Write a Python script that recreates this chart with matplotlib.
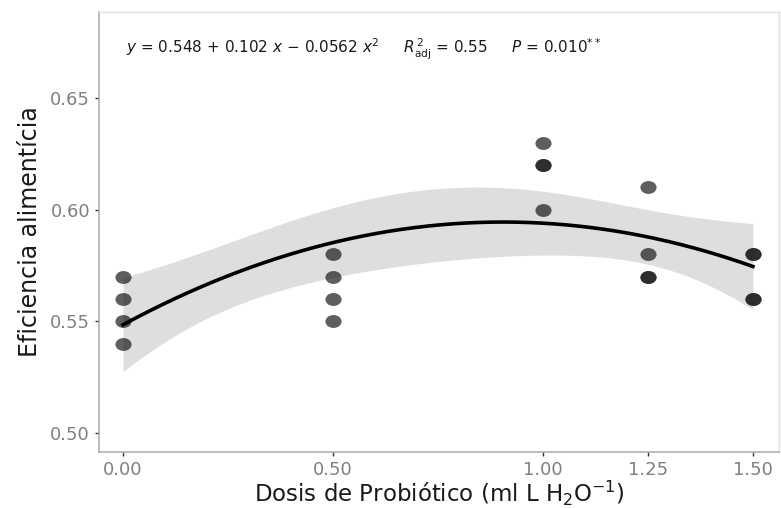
import numpy as np
import matplotlib
matplotlib.use("Agg")
import matplotlib.pyplot as plt
from matplotlib.path import Path
from matplotlib.transforms import Affine2D

plt.rcParams['font.family'] = ['DejaVu Sans']
plt.rcParams['mathtext.fontset'] = 'dejavusans'

# Data
dose = [0.00, 0.00, 0.00, 0.00,
        0.50, 0.50, 0.50, 0.50,
        1.00, 1.00, 1.00, 1.00,
        1.25, 1.25, 1.25, 1.25,
        1.50, 1.50, 1.50, 1.50]
efficiency = [0.57, 0.56, 0.55, 0.54,
              0.58, 0.57, 0.56, 0.55,
              0.63, 0.62, 0.62, 0.60,
              0.61, 0.58, 0.57, 0.57,
              0.58, 0.58, 0.56, 0.56]
x_ticks = [0.00, 0.50, 1.00, 1.25, 1.50]
x_ticklabels = ["0.00", "0.50", "1.00", "1.25", "1.50"]
y_ticks = [0.50, 0.55, 0.60, 0.65]
y_ticklabels = ["0.50", "0.55", "0.60", "0.65"]

x = np.array(dose)
y = np.array(efficiency)

# Quadratic fit with 95% confidence band (like geom_smooth)
X = np.column_stack([np.ones_like(x), x, x ** 2])
beta, res, rank, sv = np.linalg.lstsq(X, y, rcond=None)
resid = y - X @ beta
dfree = len(y) - 3
s2 = np.sum(resid ** 2) / dfree
cov = s2 * np.linalg.inv(X.T @ X)
xs = np.linspace(x.min(), x.max(), 200)
Xs = np.column_stack([np.ones_like(xs), xs, xs ** 2])
fit = Xs @ beta
se = np.sqrt(np.einsum('ij,jk,ik->i', Xs, cov, Xs))
tval = 2.110  # t(0.975, 17)

# slightly flattened dot marker
ellipse = Path.unit_circle().transformed(Affine2D().scale(1.0, 0.8))

fig = plt.figure(figsize=(7.81, 5.08), dpi=100)
ax = fig.add_axes([0.1268, 0.1102, 0.8706, 0.8662])

ax.fill_between(xs, fit - tval * se, fit + tval * se, color='#d9d9d9', alpha=0.85,
                linewidth=0, zorder=1)
ax.scatter(x, y, s=135, marker=ellipse, color='#1a1a1a', alpha=0.7, linewidths=0,
           zorder=2)
ax.plot(xs, fit, color='black', linewidth=2.6, zorder=3)

ax.set_xlim(-0.057, 1.562)
ax.set_ylim(0.4915, 0.6885)
ax.set_xticks(x_ticks)
ax.set_xticklabels(x_ticklabels)
ax.set_yticks(y_ticks)
ax.set_yticklabels(y_ticklabels)
ax.tick_params(axis='both', colors='#333333', labelcolor='#808080', labelsize=13,
               length=3, width=1.0)

for side in ['top', 'right']:
    ax.spines[side].set_color('#e0e0e0')
    ax.spines[side].set_linewidth(1.0)
for side in ['left', 'bottom']:
    ax.spines[side].set_color('#b0b0b0')
    ax.spines[side].set_linewidth(1.2)

ax.set_xlabel(r"Dosis de Probiótico (ml L H$_2$O$^{-1}$)", fontsize=16.5, color='#1a1a1a',
              labelpad=0)
ax.set_ylabel("Eficiencia alimentícia", fontsize=17, color='#1a1a1a', labelpad=6)

ax.text(0.04, 0.916,
        r"$\it{y}$ = 0.548 + 0.102 $\it{x}$ $-$ 0.0562 $\it{x}^2$     "
        r"$\it{R}^{\,2}_{\rm adj}$ = 0.55     $\it{P}$ = 0.010$^{**}$",
        transform=ax.transAxes, fontsize=11, color='#1a1a1a', va='center', ha='left')

fig.savefig("out.png", dpi=100)
